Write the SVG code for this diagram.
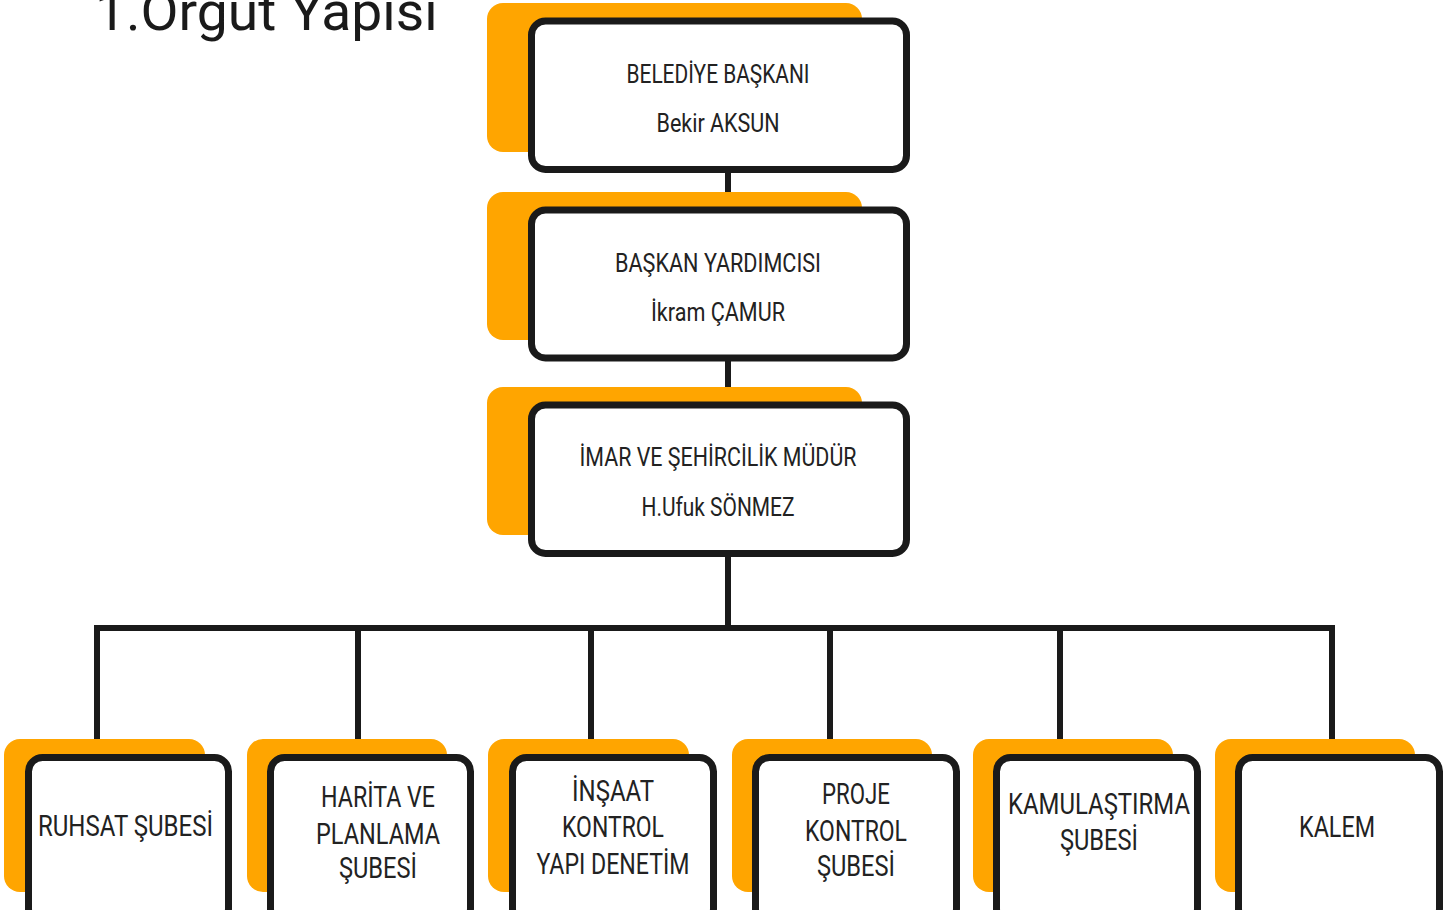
<svg xmlns="http://www.w3.org/2000/svg" width="1453" height="910" viewBox="0 0 1453 910">
<style>
.sh{fill:#FFA500;}
.bx{fill:#ffffff;stroke:#1a1a1a;stroke-width:7;}
.t{font-family:Roboto,"Liberation Sans",sans-serif;font-weight:400;fill:#222222;text-anchor:middle;}
.tm{font-size:25px;}
.tb{font-size:29px;}
.ln{stroke:#1a1a1a;stroke-width:6;fill:none;}
</style>
<rect width="1453" height="910" fill="#ffffff"/>
<text x="95" y="30" font-family="Roboto,'Liberation Sans',sans-serif" font-weight="400" font-size="54" fill="#1a1a1a" textLength="343" lengthAdjust="spacingAndGlyphs">1.Örgüt Yapısı</text>
<g id="connectors">
<line class="ln" x1="728" y1="170" x2="728" y2="208"/>
<line class="ln" x1="728" y1="359" x2="728" y2="403"/>
<line class="ln" x1="728" y1="554" x2="728" y2="628"/>
<line class="ln" x1="95" y1="628" x2="1335" y2="628"/>
<line class="ln" x1="97" y1="625" x2="97" y2="740"/>
<line class="ln" x1="358" y1="625" x2="358" y2="745"/>
<line class="ln" x1="591" y1="625" x2="591" y2="745"/>
<line class="ln" x1="830" y1="625" x2="830" y2="740"/>
<line class="ln" x1="1060" y1="625" x2="1060" y2="740"/>
<line class="ln" x1="1332" y1="625" x2="1332" y2="740"/>
</g>
<g id="n-baskan">
<rect class="sh" x="487" y="3" width="375" height="149" rx="16"/>
<rect class="bx" x="531.5" y="21" width="375" height="148.5" rx="14"/>
<text class="t tm" x="718" y="83" textLength="183" lengthAdjust="spacingAndGlyphs">BELEDİYE BAŞKANI</text>
<text class="t tm" x="718" y="132" textLength="123" lengthAdjust="spacingAndGlyphs">Bekir AKSUN</text>
</g>
<g id="n-yardimci">
<rect class="sh" x="487" y="192" width="375" height="148" rx="16"/>
<rect class="bx" x="531.5" y="210" width="375" height="148" rx="14"/>
<text class="t tm" x="718" y="272" textLength="206" lengthAdjust="spacingAndGlyphs">BAŞKAN YARDIMCISI</text>
<text class="t tm" x="718" y="321" textLength="134" lengthAdjust="spacingAndGlyphs">İkram ÇAMUR</text>
</g>
<g id="n-mudur">
<rect class="sh" x="487" y="387" width="375" height="148" rx="16"/>
<rect class="bx" x="531.5" y="405" width="375" height="148.5" rx="14"/>
<text class="t tm" x="718" y="466" textLength="277" lengthAdjust="spacingAndGlyphs">İMAR VE ŞEHİRCİLİK MÜDÜR</text>
<text class="t tm" x="718" y="516" textLength="153" lengthAdjust="spacingAndGlyphs">H.Ufuk SÖNMEZ</text>
</g>
<g id="n-ruhsat">
<rect class="sh" x="4" y="739" width="201" height="153" rx="16"/>
<rect class="bx" x="28.5" y="757.5" width="200" height="165" rx="14"/>
<text class="t tb" x="125.5" y="836" textLength="175" lengthAdjust="spacingAndGlyphs">RUHSAT ŞUBESİ</text>
</g>
<g id="n-harita">
<rect class="sh" x="247" y="739" width="200" height="153" rx="16"/>
<rect class="bx" x="270.5" y="757.5" width="200" height="165" rx="14"/>
<text class="t tb" x="378" y="807" textLength="114" lengthAdjust="spacingAndGlyphs">HARİTA VE</text>
<text class="t tb" x="378" y="844" textLength="124" lengthAdjust="spacingAndGlyphs">PLANLAMA</text>
<text class="t tb" x="378" y="878" textLength="78" lengthAdjust="spacingAndGlyphs">ŞUBESİ</text>
</g>
<g id="n-insaat">
<rect class="sh" x="488" y="739" width="201" height="153" rx="16"/>
<rect class="bx" x="512.5" y="757.5" width="201" height="165" rx="14"/>
<text class="t tb" x="613" y="801" textLength="82" lengthAdjust="spacingAndGlyphs">İNŞAAT</text>
<text class="t tb" x="613" y="837" textLength="102" lengthAdjust="spacingAndGlyphs">KONTROL</text>
<text class="t tb" x="613" y="874" textLength="153" lengthAdjust="spacingAndGlyphs">YAPI DENETİM</text>
</g>
<g id="n-proje">
<rect class="sh" x="732" y="739" width="200" height="153" rx="16"/>
<rect class="bx" x="755.5" y="757.5" width="201" height="165" rx="14"/>
<text class="t tb" x="856" y="804" textLength="68" lengthAdjust="spacingAndGlyphs">PROJE</text>
<text class="t tb" x="856" y="841" textLength="102" lengthAdjust="spacingAndGlyphs">KONTROL</text>
<text class="t tb" x="856" y="876" textLength="78" lengthAdjust="spacingAndGlyphs">ŞUBESİ</text>
</g>
<g id="n-kamulastirma">
<rect class="sh" x="973" y="739" width="200" height="153" rx="16"/>
<rect class="bx" x="996.5" y="757.5" width="201" height="165" rx="14"/>
<text class="t tb" x="1099" y="814" textLength="182" lengthAdjust="spacingAndGlyphs">KAMULAŞTIRMA</text>
<text class="t tb" x="1099" y="850" textLength="78" lengthAdjust="spacingAndGlyphs">ŞUBESİ</text>
</g>
<g id="n-kalem">
<rect class="sh" x="1215" y="739" width="200" height="153" rx="16"/>
<rect class="bx" x="1238.5" y="757.5" width="201" height="165" rx="14"/>
<text class="t tb" x="1337" y="837" textLength="76" lengthAdjust="spacingAndGlyphs">KALEM</text>
</g>
</svg>
